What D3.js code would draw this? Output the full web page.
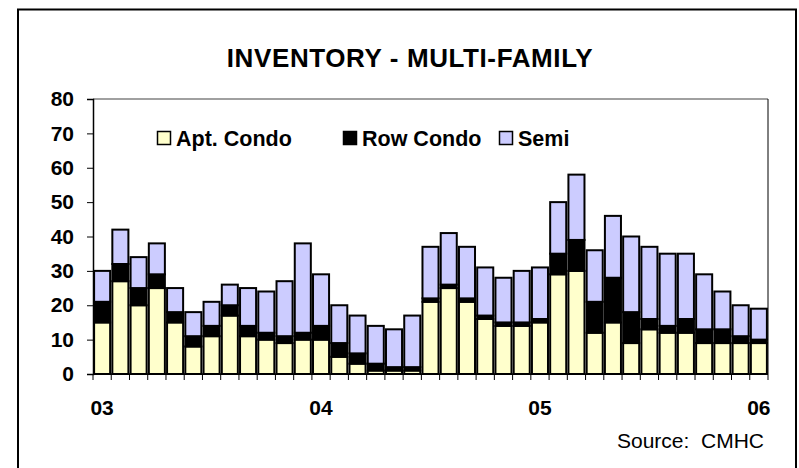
<!DOCTYPE html>
<html>
<head>
<meta charset="utf-8">
<script src="https://cdn.jsdelivr.net/npm/d3@7"></script>
<style>
  html, body { margin: 0; padding: 0; background: #fff; }
  svg { display: block; font-family: "Liberation Sans", Arial, sans-serif; }
</style>
</head>
<body>
<svg id="chart" width="799" height="468"></svg>
<script>
// ---- data ----
const months = d3.range(37).map(i => {
  const y = 3 + Math.floor(i / 12), m = (i % 12) + 1;
  return (y < 10 ? "0" : "") + y + "-" + (m < 10 ? "0" : "") + m;
});
const aptCondo = [15,27,20,25,15, 8,11,17,11,10, 9,10,10, 5, 3, 1, 1, 1,21,25,21,16,14,14,15,29,30,12,15, 9,13,12,12, 9, 9, 9, 9];
const rowCondo = [ 6, 5, 5, 4, 3, 3, 3, 3, 3, 2, 2, 2, 4, 4, 3, 2, 1, 1, 1, 1, 1, 1, 1, 1, 1, 6, 9, 9,13, 9, 3, 2, 4, 4, 4, 2, 1];
const semi     = [ 9,10, 9, 9, 7, 7, 7, 6,11,12,16,26,15,11,11,11,11,15,15,15,15,14,13,15,15,15,19,15,18,22,21,21,19,16,11, 9, 9];
const seriesNames = ["Apt. Condo", "Row Condo", "Semi"];
const yTicks = [0,10,20,30,40,50,60,70,80];
const xLabelIdx = [0, 12, 24, 36];
const xLabels = ["03", "04", "05", "06"];
const colors = ["#FFFFCC", "#000000", "#CCCCFF"];

// ---- layout ----
const svg = d3.select("#chart");
const X0 = 93, X1 = 768, Y0 = 374, Y1 = 99;

svg.append("rect").attr("x", 18).attr("y", 9.5).attr("width", 778).attr("height", 480)
  .attr("fill", "#fff").attr("stroke", "#000").attr("stroke-width", 2);

svg.append("text").attr("x", 410).attr("y", 67).attr("text-anchor", "middle")
  .attr("font-size", 26).attr("font-weight", "bold").attr("letter-spacing", 0.6)
  .text("INVENTORY - MULTI-FAMILY");

const x = d3.scaleBand().domain(months).range([X0, X1]).paddingInner(0.12).paddingOuter(0.06);
const y = d3.scaleLinear().domain([0, 80]).range([Y0, Y1]);

// plot area frame
svg.append("line").attr("x1", X0).attr("x2", X1).attr("y1", Y1).attr("y2", Y1)
  .attr("stroke", "#808080").attr("stroke-width", 1.5);
svg.append("line").attr("x1", X1).attr("x2", X1).attr("y1", Y1).attr("y2", Y0)
  .attr("stroke", "#000").attr("stroke-width", 1);

// stacked bars
const rows = months.map((m, i) => ({ m, a: aptCondo[i], r: rowCondo[i], s: semi[i] }));
const stack = d3.stack().keys(["a", "r", "s"])(rows);
svg.append("g").selectAll("g").data(stack).join("g")
  .attr("fill", (d, i) => colors[i])
  .selectAll("rect").data(d => d).join("rect")
  .attr("x", d => x(d.data.m))
  .attr("width", x.bandwidth())
  .attr("y", d => y(d[1]))
  .attr("height", d => y(d[0]) - y(d[1]))
  .attr("stroke", "#000").attr("stroke-width", 2);

// y axis
const yAxis = svg.append("g").attr("transform", `translate(${X0},0)`)
  .call(d3.axisLeft(y).tickValues(yTicks).tickSize(6).tickPadding(13));
yAxis.select(".domain").attr("stroke", "#000").attr("stroke-width", 1.5);
yAxis.selectAll(".tick line").attr("stroke", "#000");
yAxis.selectAll(".tick text").attr("font-size", 21).attr("font-weight", "bold")
  .attr("font-family", "Liberation Sans, Arial, sans-serif").attr("fill", "#000");

// x axis: ticks at band boundaries
const bounds = d3.range(38).map(i => X0 + (X1 - X0) * i / 37);
const xg = svg.append("g");
xg.append("line").attr("x1", X0).attr("x2", X1).attr("y1", Y0).attr("y2", Y0)
  .attr("stroke", "#000").attr("stroke-width", 1.5);
xg.selectAll("line.t").data(bounds).join("line").attr("class", "t")
  .attr("x1", d => d).attr("x2", d => d).attr("y1", Y0).attr("y2", Y0 + 6)
  .attr("stroke", "#000").attr("stroke-width", 1);
xg.selectAll("text").data(xLabelIdx).join("text")
  .attr("x", (d) => x(months[d]) + x.bandwidth() / 2)
  .attr("y", 415).attr("text-anchor", "middle")
  .attr("font-size", 21).attr("font-weight", "bold")
  .text((d, i) => xLabels[i]);

// legend
const legX = [157, 343, 499];
const lg = svg.append("g").selectAll("g").data(seriesNames).join("g")
  .attr("transform", (d, i) => `translate(${legX[i]},131)`);
lg.append("rect").attr("x", 0.5).attr("y", 0.5).attr("width", 13).attr("height", 13)
  .attr("fill", (d, i) => colors[i]).attr("stroke", "#000").attr("stroke-width", 1.5);
lg.append("text").attr("x", 19).attr("y", 14.5).attr("font-size", 21.5).attr("font-weight", "bold")
  .text(d => d);

// source
svg.append("text").attr("x", 764).attr("y", 448).attr("text-anchor", "end")
  .attr("font-size", 21).attr("xml:space", "preserve").text("Source:  CMHC");
</script>
</body>
</html>
